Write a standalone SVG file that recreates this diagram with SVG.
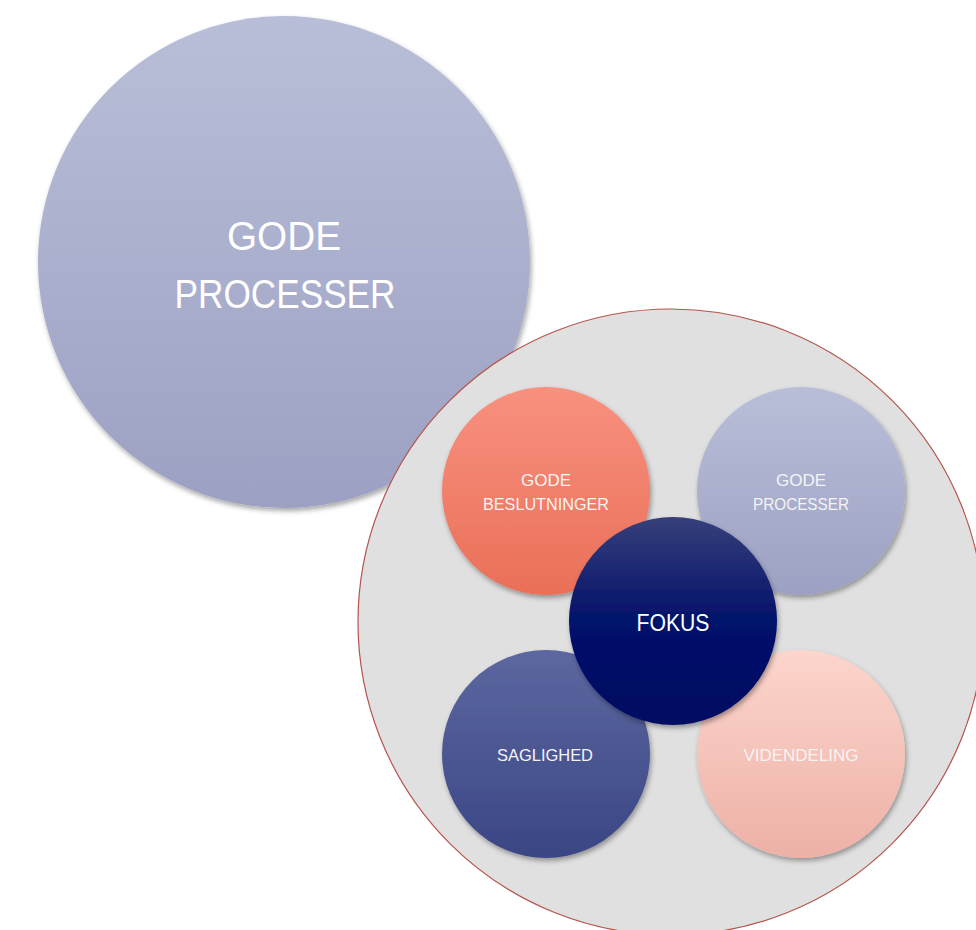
<svg xmlns="http://www.w3.org/2000/svg" width="976" height="930" viewBox="0 0 976 930">
<defs>
<linearGradient id="gBlue" x1="0" y1="0" x2="0" y2="1"><stop offset="0" stop-color="#b9bed8"/><stop offset="1" stop-color="#9ca1c3"/></linearGradient>
<linearGradient id="gCoral" x1="0" y1="0" x2="0" y2="1"><stop offset="0" stop-color="#f8917f"/><stop offset="1" stop-color="#ea6f58"/></linearGradient>
<linearGradient id="gNavy" x1="0" y1="0" x2="0" y2="1"><stop offset="0" stop-color="#373f7a"/><stop offset="0.5" stop-color="#02126a"/><stop offset="1" stop-color="#000c62"/></linearGradient>
<linearGradient id="gMid" x1="0" y1="0" x2="0" y2="1"><stop offset="0" stop-color="#5d67a0"/><stop offset="1" stop-color="#3a4684"/></linearGradient>
<linearGradient id="gPink" x1="0" y1="0" x2="0" y2="1"><stop offset="0" stop-color="#fcd5cc"/><stop offset="1" stop-color="#edb1a6"/></linearGradient>
<filter id="sh" x="-20%" y="-20%" width="140%" height="140%"><feDropShadow dx="1.5" dy="3" stdDeviation="2.5" flood-color="#000" flood-opacity="0.35"/></filter>
<style>
.t{font-family:"Liberation Sans","Open Sans",Arial,sans-serif;text-anchor:middle;fill:#ffffff}
.big{font-size:40px}
.sm{font-size:17px;fill:#f4f4f4}
.fk{font-size:24px}
</style>
</defs>
<g id="bigProcesser">
<circle cx="284" cy="262" r="246" fill="url(#gBlue)" filter="url(#sh)"/>
<text class="t big" x="284" y="250" textLength="114" lengthAdjust="spacingAndGlyphs">GODE</text>
<text class="t big" x="285" y="308" textLength="221" lengthAdjust="spacingAndGlyphs">PROCESSER</text>
</g>
<g id="container">
<circle cx="671" cy="622" r="313" fill="#e0e0e0" stroke="#b5544b" stroke-width="1.2"/>
</g>
<g id="godeBeslutninger">
<circle cx="546" cy="491" r="104" fill="url(#gCoral)" filter="url(#sh)"/>
<text class="t sm" x="546" y="486" textLength="50" lengthAdjust="spacingAndGlyphs">GODE</text>
<text class="t sm" x="546" y="510" textLength="126" lengthAdjust="spacingAndGlyphs">BESLUTNINGER</text>
</g>
<g id="godeProcesser">
<circle cx="801" cy="491" r="104" fill="url(#gBlue)" filter="url(#sh)"/>
<text class="t sm" x="801" y="486" textLength="50" lengthAdjust="spacingAndGlyphs">GODE</text>
<text class="t sm" x="801" y="510" textLength="96" lengthAdjust="spacingAndGlyphs">PROCESSER</text>
</g>
<g id="saglighed">
<circle cx="546" cy="754" r="104" fill="url(#gMid)" filter="url(#sh)"/>
<text class="t sm" x="545" y="761" textLength="96" lengthAdjust="spacingAndGlyphs">SAGLIGHED</text>
</g>
<g id="videndeling">
<circle cx="801" cy="754" r="104" fill="url(#gPink)" filter="url(#sh)"/>
<text class="t sm" x="801" y="761" textLength="115" lengthAdjust="spacingAndGlyphs">VIDENDELING</text>
</g>
<g id="fokus">
<circle cx="673" cy="621" r="104" fill="url(#gNavy)" filter="url(#sh)"/>
<text class="t fk" x="673" y="631" textLength="73" lengthAdjust="spacingAndGlyphs">FOKUS</text>
</g>
</svg>
